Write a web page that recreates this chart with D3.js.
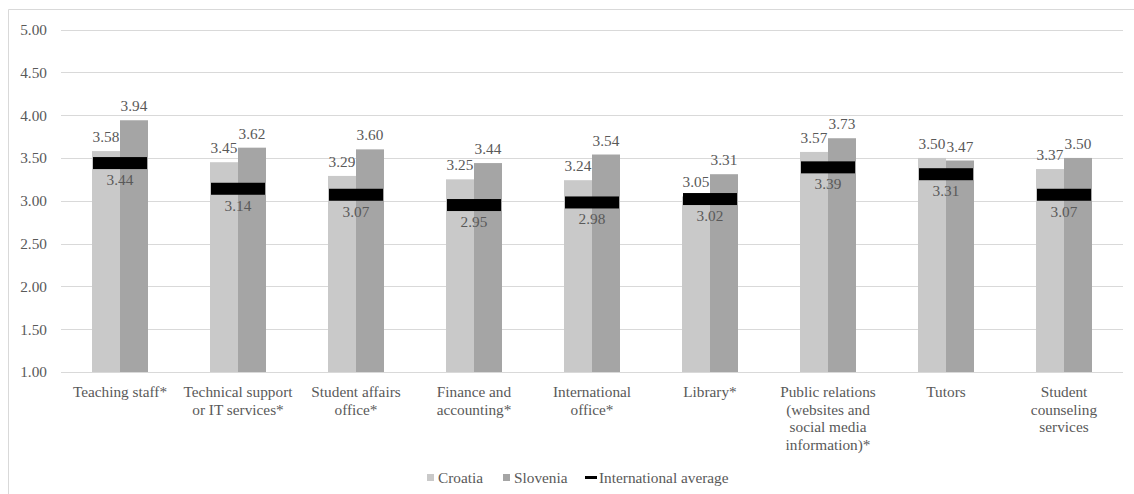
<!DOCTYPE html>
<html><head><meta charset="utf-8">
<script src="https://cdn.jsdelivr.net/npm/d3@7"></script>
<style>html,body{margin:0;padding:0;background:#fff;}svg{display:block;}</style>
</head><body>
<script>
const categories = [
  ["Teaching staff*"],
  ["Technical support","or IT services*"],
  ["Student affairs","office*"],
  ["Finance and","accounting*"],
  ["International","office*"],
  ["Library*"],
  ["Public relations","(websites and","social media","information)*"],
  ["Tutors"],
  ["Student","counseling","services"]
];
const croatia  = [3.58, 3.45, 3.29, 3.25, 3.24, 3.05, 3.57, 3.50, 3.37];
const slovenia = [3.94, 3.62, 3.60, 3.44, 3.54, 3.31, 3.73, 3.47, 3.50];
const intlAvg  = [3.44, 3.14, 3.07, 2.95, 2.98, 3.02, 3.39, 3.31, 3.07];
const yTicks = [1.0, 1.5, 2.0, 2.5, 3.0, 3.5, 4.0, 4.5, 5.0];
const seriesNames = ["Croatia", "Slovenia", "International average"];

const W = 1134, H = 494;
const FF = "Liberation Serif";
const FS = "15.3px";
const textCol = "#595959";
const colC = "#c9c9c9", colS = "#a5a5a5";

const svg = d3.select("body").append("svg").attr("width", W).attr("height", H);

// chart border
svg.append("path").attr("d", `M8.5,${H}V9.5H${W}`).attr("fill","none").attr("stroke","#d9d9d9").attr("stroke-width",1);

const x = d3.scaleBand().domain(d3.range(categories.length)).range([61, 1123]).padding(0);
const y = d3.scaleLinear().domain([1, 5]).range([372, 29.5]);
const sub = d3.scaleBand().domain([0,1]).range([-28, 28]).padding(0);

// gridlines
svg.append("g").selectAll("line").data(yTicks).join("line")
  .attr("x1", 61).attr("x2", 1123)
  .attr("y1", d => Math.round(y(d)) + 0.5).attr("y2", d => Math.round(y(d)) + 0.5)
  .attr("stroke", "#d9d9d9").attr("stroke-width", 1);

function lbl(sel){ return sel.attr("fill", textCol).style("font-family", FF).style("font-size", FS); }

// y axis labels
const yAxis = d3.axisLeft(y).tickValues(yTicks).tickFormat(d3.format(".2f")).tickSize(0).tickPadding(0);
const yg = svg.append("g").attr("transform", "translate(47,0)").call(yAxis);
yg.select(".domain").remove();
lbl(yg.selectAll("text"));

const g = svg.append("g");
const groups = g.selectAll("g.grp").data(categories.map((c,i)=>i)).join("g")
  .attr("class","grp")
  .attr("transform", i => `translate(${x(i) + x.bandwidth()/2},0)`);

// bars
groups.append("rect").attr("x", sub(0)).attr("width", sub.bandwidth())
  .attr("y", i => y(croatia[i])).attr("height", i => y(1) - y(croatia[i])).attr("fill", colC);
groups.append("rect").attr("x", sub(1)).attr("width", sub.bandwidth())
  .attr("y", i => y(slovenia[i])).attr("height", i => y(1) - y(slovenia[i])).attr("fill", colS);

// intl average marker
groups.append("rect").attr("x", -27).attr("width", 54)
  .attr("y", i => y(intlAvg[i]) - 6).attr("height", 12).attr("fill", "#000");

// labels
const fmt = d3.format(".2f");
lbl(groups.append("text")).attr("text-anchor","middle").attr("x", sub(0) + sub.bandwidth()/2).attr("y", i => y(croatia[i]) - 9).text(i => fmt(croatia[i]));
lbl(groups.append("text")).attr("text-anchor","middle").attr("x", sub(1) + sub.bandwidth()/2).attr("y", i => y(slovenia[i]) - 9).text(i => fmt(slovenia[i]));
lbl(groups.append("text")).attr("text-anchor","middle").attr("x", 0).attr("y", i => y(intlAvg[i]) + 22).text(i => fmt(intlAvg[i]));

// x labels
lbl(groups.append("text")).attr("text-anchor","middle")
  .selectAll("tspan").data(i => categories[i]).join("tspan")
  .attr("x", 0).attr("y", (d, k) => 397 + k * 17.5).text(d => d);

// legend
const leg = svg.append("g").attr("transform","translate(0,478)");
const legItems = [
  {name: seriesNames[0], x: 427, type: "sq", col: colC},
  {name: seriesNames[1], x: 503, type: "sq", col: colS},
  {name: seriesNames[2], x: 585, type: "ln", col: "#000"}
];
const li = leg.selectAll("g").data(legItems).join("g").attr("transform", d => `translate(${d.x},0)`);
li.filter(d => d.type === "sq").append("rect").attr("x",0).attr("y",-4).attr("width",7).attr("height",7).attr("fill", d => d.col);
li.filter(d => d.type === "ln").append("rect").attr("x",0).attr("y",-2).attr("width",12).attr("height",3).attr("fill", d => d.col);
lbl(li.append("text")).attr("x", d => d.type === "sq" ? 11 : 14).attr("y", 5).text(d => d.name);
</script>
</body></html>
